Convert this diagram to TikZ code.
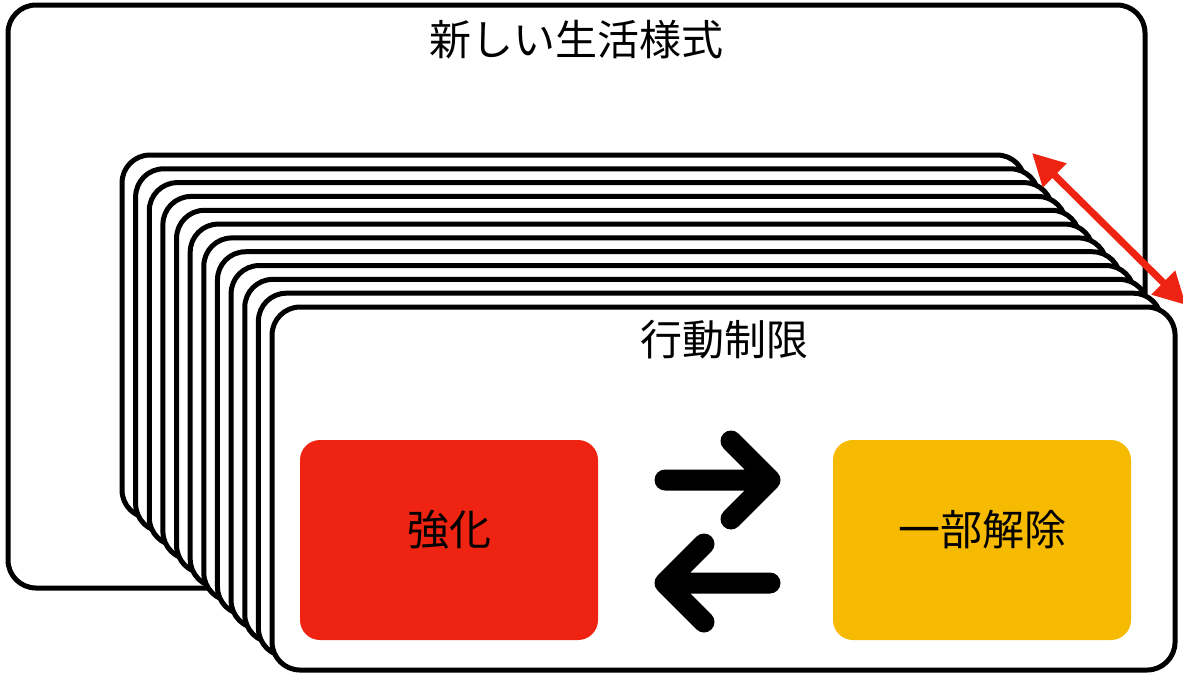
\documentclass[tikz,border=0pt]{standalone}
\usepackage{fontspec}
\newfontfamily\jp{Noto Sans CJK JP}
\usetikzlibrary{arrows.meta}
\definecolor{boxred}{HTML}{EE2311}
\definecolor{boxyellow}{HTML}{F6BA00}
\begin{document}
\begin{tikzpicture}[x=1pt,y=-1pt,
  frame/.style={draw=black,line width=5pt,fill=white,rounded corners=28pt,inner sep=0pt},
  card/.style={frame,minimum width=903pt,minimum height=363pt},
  colbox/.style={rounded corners=20pt,minimum width=298pt,minimum height=200pt,inner sep=0pt},
  label/.style={font=\jp\fontsize{42}{50}\selectfont,text=black,inner sep=0pt},
  swap/.style={line width=21pt,line cap=round,line join=round,draw=black},
  redarrow/.style={draw=boxred,line width=7pt,{Triangle[length=32pt,width=32pt]}-{Triangle[length=32pt,width=32pt]}}]
\useasboundingbox (0,0) rectangle (1183,675);
\node[frame,minimum width=1137pt,minimum height=583pt] (life) at (576.5,296.5) {};
\node[label] (lifet) at (576,40) {新しい生活様式};
\foreach \i in {0,...,11}{
  \node[card] (c\i) at ({573.5+\i*13.64},{336.5+\i*13.82}) {};
}
\node[label] (rest) at (724,340) {行動制限};
\node[colbox,fill=boxred] (strong) at (449,540) {};
\node[label] at ([yshift=10pt]strong.center) {強化};
\node[colbox,fill=boxyellow] (part) at (982,540) {};
\node[label] at ([yshift=10pt]part.center) {一部解除};
\coordinate (ra0) at (665,480);
\coordinate (ra1) at (770,480);
\coordinate (ra2) at (731,441);
\coordinate (ra3) at (731,519);
\coordinate (la0) at (770,583);
\coordinate (la1) at (665,583);
\coordinate (la2) at (704,544);
\coordinate (la3) at (704,622);
\draw[swap] (ra0) -- (ra1) (ra2) -- (ra1) -- (ra3);
\draw[swap] (la0) -- (la1) (la2) -- (la1) -- (la3);
\coordinate (d0) at (1032,153);
\coordinate (d1) at (1186,305);
\draw[redarrow] (d0) -- (d1);
\end{tikzpicture}
\end{document}
